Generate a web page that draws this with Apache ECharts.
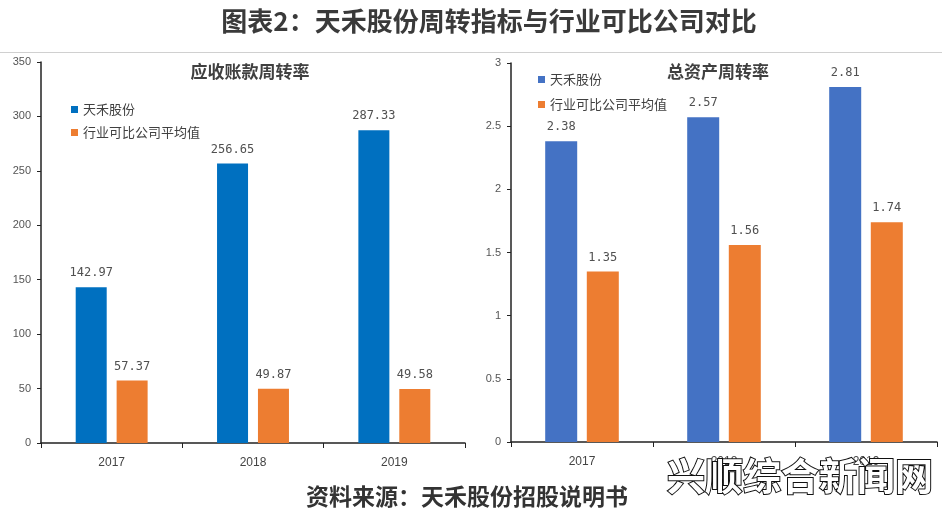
<!DOCTYPE html>
<html><head><meta charset="utf-8">
<script src="https://cdn.jsdelivr.net/npm/echarts@6/dist/echarts.min.js"></script>
<style>html,body{margin:0;padding:0;background:#fff}#c{width:942px;height:509px}</style>
</head><body><div id="c"></div>
<script>
const categories = ['2017', '2018', '2019'];
const seriesNames = ['天禾股份', '行业可比公司平均值'];
const arCompany = [142.97, 256.65, 287.33];
const arIndustry = [57.37, 49.87, 49.58];
const taCompany = [2.38, 2.57, 2.81];
const taIndustry = [1.35, 1.56, 1.74];
const leftTicks = [0, 50, 100, 150, 200, 250, 300, 350];
const rightTicks = [0, 0.5, 1, 1.5, 2, 2.5, 3];

const chart = echarts.init(document.getElementById('c'), null, {renderer: 'canvas'});
const fontCJK = '"Noto Sans CJK SC", "Noto Sans", sans-serif';
const labelStyle = {show: true, position: 'top', distance: 8, color: '#505050', fontSize: 12, fontFamily: '"DejaVu Sans Mono", monospace',
  formatter: p => p.value.toFixed(2)};
function yAxis(idx, ticks){
  return {gridIndex: idx, type: 'value', min: ticks[0], max: ticks[ticks.length-1], interval: ticks[1]-ticks[0],
    axisLine: {show: true, lineStyle: {color: '#222', width: 1.5}},
    axisTick: {show: true, length: 4, lineStyle: {color: '#222'}},
    splitLine: {show: false},
    axisLabel: {color: '#555', fontSize: 11, margin: 10, fontFamily: 'Arial, sans-serif'}};
}
function xAxis(idx){
  return {gridIndex: idx, type: 'category', data: categories,
    axisLine: {lineStyle: {color: '#222', width: 1.5}},
    axisTick: {show: true, length: 5, lineStyle: {color: '#222'}},
    axisLabel: {color: '#444', fontSize: 12, margin: 14, fontFamily: 'Arial, sans-serif'}};
}
const legText = {fontFamily: fontCJK, fontSize: 13, color: '#404040'};
chart.setOption({
  animation: false,
  backgroundColor: '#fff',
  title: [
    {text: '图表2：天禾股份周转指标与行业可比公司对比', left: 484, top: 3, textAlign: 'center', textStyle: {fontFamily: fontCJK, fontSize: 26, fontWeight: 'bold', color: '#3a3a3a'}},
    {text: '应收账款周转率', left: 245, top: 58, textAlign: 'center', textStyle: {fontFamily: fontCJK, fontSize: 17, fontWeight: 'bold', color: '#404040'}},
    {text: '总资产周转率', left: 713, top: 58, textAlign: 'center', textStyle: {fontFamily: fontCJK, fontSize: 17, fontWeight: 'bold', color: '#404040'}},
    {text: '资料来源：天禾股份招股说明书', left: 462, top: 480, textAlign: 'center', textStyle: {fontFamily: fontCJK, fontSize: 23, fontWeight: 'bold', color: '#333'}}
  ],
  legend: [
    {data: [{name: seriesNames[0]}], left: 66, top: 98, itemWidth: 7, itemHeight: 7, itemGap: 12, icon: 'rect',
      textStyle: legText, selectedMode: false, formatter: n => n},
    {data: [{name: seriesNames[1] + ' '}], left: 66, top: 121, itemWidth: 7, itemHeight: 7, icon: 'rect',
      textStyle: legText, selectedMode: false, formatter: n => n.trim()},
    {data: [{name: seriesNames[0] + '  '}], left: 533, top: 68, itemWidth: 7, itemHeight: 7, icon: 'rect',
      textStyle: legText, selectedMode: false, formatter: n => n.trim()},
    {data: [{name: seriesNames[1] + '   '}], left: 533, top: 93, itemWidth: 7, itemHeight: 7, icon: 'rect',
      textStyle: legText, selectedMode: false, formatter: n => n.trim()}
  ],
  grid: [
    {left: 41, right: 477, top: 62, bottom: 66},
    {left: 511, right: 5, top: 63, bottom: 67}
  ],
  xAxis: [xAxis(0), xAxis(1)],
  yAxis: [yAxis(0, leftTicks), yAxis(1, rightTicks)],
  series: [
    {name: seriesNames[0], type: 'bar', xAxisIndex: 0, yAxisIndex: 0, data: arCompany, barWidth: 31, barGap: '32%', itemStyle: {color: '#0070C0'}, label: labelStyle},
    {name: seriesNames[1] + ' ', type: 'bar', xAxisIndex: 0, yAxisIndex: 0, data: arIndustry, barWidth: 31, barGap: '32%', itemStyle: {color: '#ED7D31'}, label: labelStyle},
    {name: seriesNames[0] + '  ', type: 'bar', xAxisIndex: 1, yAxisIndex: 1, data: taCompany, barWidth: 32, barGap: '30%', itemStyle: {color: '#4472C4'}, label: labelStyle},
    {name: seriesNames[1] + '   ', type: 'bar', xAxisIndex: 1, yAxisIndex: 1, data: taIndustry, barWidth: 32, barGap: '30%', itemStyle: {color: '#ED7D31'}, label: labelStyle}
  ],
  graphic: [
    {type: 'line', shape: {x1: 0, y1: 52.5, x2: 942, y2: 52.5}, style: {stroke: '#d0d0d0', lineWidth: 1}},
    {type: 'text', left: 666, top: 456, z: 100, style: {text: '兴顺综合新闻网', fontFamily: fontCJK, fontSize: 38, fontWeight: 'bold', fill: '#fff', stroke: '#111', lineWidth: 2}}
  ]
});
</script></body></html>
